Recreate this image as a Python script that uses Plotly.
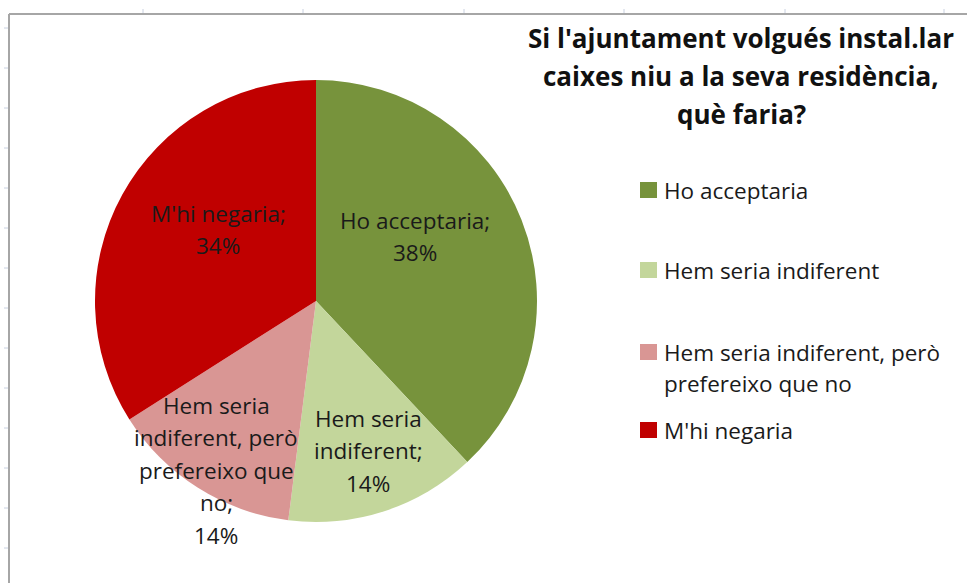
import plotly.graph_objects as go

# ---- data ----
categories = ["Ho acceptaria", "Hem seria indiferent",
              "Hem seria indiferent, però prefereixo que no", "M'hi negaria"]
values = [38, 14, 14, 34]
colors = ["#77933C", "#C3D69B", "#D99694", "#C00000"]
title_text = "Si l'ajuntament volgués instal.lar<br>caixes niu a la seva residència,<br>què faria?"

# wrapped label lines (as in the reference)
label_lines = [
    ["Ho acceptaria;"],
    ["Hem seria", "indiferent;"],
    ["Hem seria", "indiferent, però", "prefereixo que", "no;"],
    ["M'hi negaria;"],
]
legend_lines = [
    ["Ho acceptaria"],
    ["Hem seria indiferent"],
    ["Hem seria indiferent, però", "prefereixo que no"],
    ["M'hi negaria"],
]

W, H = 967, 583
FONT = "Open Sans"

# pie geometry (pixels)
cx, cy, r = 316, 301, 221

fig = go.Figure(go.Pie(
    labels=categories, values=values, sort=False, direction="clockwise",
    rotation=0, marker=dict(colors=colors, line=dict(width=0)),
    textinfo="none", hoverinfo="label+percent", showlegend=False,
    domain=dict(x=[(cx - r) / W, (cx + r) / W],
                y=[(H - cy - r) / H, (H - cy + r) / H]),
))

annotations = []
shapes = []

# slice labels (positions in pixels: center x, first line y)
label_pos = [(415, 220), (368, 418), (216, 405), (218, 213)]
line_h = 32.5
total = sum(values)
for lines, v, (lx, ly) in zip(label_lines, values, label_pos):
    all_lines = lines + [f"{round(100 * v / total)}%"]
    for i, t in enumerate(all_lines):
        annotations.append(dict(
            x=lx / W, y=1 - (ly + i * line_h) / H, xref="paper", yref="paper",
            text=t, showarrow=False, xanchor="center", yanchor="middle",
            font=dict(family=FONT, size=22.5, color="#1a1a1a")))

# manual legend
leg_y = [190, 270, 352, 430]
for lines, col, y0 in zip(legend_lines, colors, leg_y):
    shapes.append(dict(type="rect", xref="paper", yref="paper",
                       x0=640 / W, x1=657 / W,
                       y0=1 - (y0 - 8) / H, y1=1 - (y0 + 8) / H,
                       fillcolor=col, line=dict(width=0)))
    for i, t in enumerate(lines):
        annotations.append(dict(
            x=662 / W, y=1 - (y0 + i * 31) / H, xref="paper", yref="paper",
            text=t, showarrow=False, xanchor="left", yanchor="middle",
            font=dict(family=FONT, size=22.5, color="#1a1a1a")))

# title lines
for i, t in enumerate(title_text.split("<br>")):
    annotations.append(dict(
        x=741 / W, y=1 - (38 + i * 38) / H, xref="paper", yref="paper",
        text=f"<b>{t}</b>", showarrow=False, xanchor="center", yanchor="middle",
        font=dict(family=FONT, size=26, color="#111111")))

# chart frame (sheet border)
shapes.append(dict(type="line", xref="paper", yref="paper",
                   x0=9 / W, x1=1.01, y0=1 - 14 / H, y1=1 - 14 / H,
                   line=dict(color="#a6a6a6", width=2)))
shapes.append(dict(type="line", xref="paper", yref="paper",
                   x0=9 / W, x1=9 / W, y0=1 - 14 / H, y1=-0.01,
                   line=dict(color="#a6a6a6", width=2)))
# faint sheet grid ticks
for tx in [143, 303, 464, 624, 785, 944]:
    shapes.append(dict(type="line", xref="paper", yref="paper",
                       x0=tx / W, x1=tx / W, y0=1 - 9 / H, y1=1 - 13 / H,
                       line=dict(color="#c8d0e0", width=1)))
for ty in range(28, 583, 40):
    shapes.append(dict(type="line", xref="paper", yref="paper",
                       x0=4 / W, x1=8 / W, y0=1 - ty / H, y1=1 - ty / H,
                       line=dict(color="#c8d0e0", width=1)))

fig.update_layout(
    width=W, height=H, margin=dict(l=0, r=0, t=0, b=0),
    paper_bgcolor="white", plot_bgcolor="white",
    annotations=annotations, shapes=shapes,
)

fig.write_html("out.html", config={"displayModeBar": False},
               post_script="document.body.style.margin='0px';"
                           "document.body.style.padding='0px';")
